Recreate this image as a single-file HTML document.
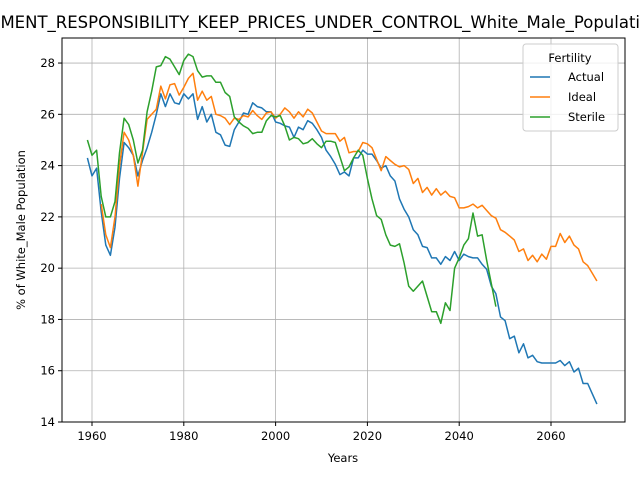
<!DOCTYPE html>
<html><head><meta charset="utf-8"><style>body{margin:0;background:#fff}svg{display:block;font-family:"DejaVu Sans","Liberation Sans",sans-serif}</style></head>
<body>
<svg id="chart" width="640" height="480">
<text x="295" y="28" font-size="16.5" text-anchor="middle">GOVERNMENT_RESPONSIBILITY_KEEP_PRICES_UNDER_CONTROL_White_Male_Population</text>
<g id="grid"></g><g id="series"></g><g id="axes"></g>
<rect x="62" y="38" width="563" height="384" fill="none" stroke="#000" stroke-width="1"/>
<text x="343" y="462" font-size="11.5" text-anchor="middle">Years</text>
<text transform="translate(25,230) rotate(-90)" font-size="11.5" text-anchor="middle">% of White_Male Population</text>
<g>
<rect x="523" y="44" width="95" height="87" rx="3" fill="#fff" fill-opacity="0.8" stroke="#ccc"/>
<text x="570" y="62" font-size="11.5" text-anchor="middle">Fertility</text>
<g><line x1="530" y1="77" x2="550" y2="77" stroke="#1f77b4" stroke-width="1.5"/><text x="568" y="81" font-size="11.5">Actual</text></g>
<g><line x1="530" y1="97" x2="550" y2="97" stroke="#ff7f0e" stroke-width="1.5"/><text x="568" y="101" font-size="11.5">Ideal</text></g>
<g><line x1="530" y1="117" x2="550" y2="117" stroke="#2ca02c" stroke-width="1.5"/><text x="568" y="121" font-size="11.5">Sterile</text></g>
</g>
</svg>
<script>
const xTicks=[1960,1980,2000,2020,2040,2060];
const yTicks=[14,16,18,20,22,24,26,28];
const actualStart=1959;
const actual=[24.3,23.6,23.9,22.2,20.9,20.5,21.6,23.5,24.9,24.7,24.4,23.6,24.2,24.7,25.3,26.0,26.8,26.3,26.8,26.45,26.4,26.8,26.6,26.8,25.8,26.3,25.7,26.0,25.3,25.2,24.8,24.75,25.4,25.7,26.05,26.0,26.45,26.3,26.25,26.1,26.1,25.7,25.65,25.55,25.5,25.1,25.5,25.4,25.75,25.65,25.4,25.1,24.6,24.35,24.05,23.65,23.75,23.6,24.3,24.3,24.6,24.45,24.45,24.2,23.9,24.0,23.6,23.4,22.7,22.3,22.0,21.5,21.3,20.85,20.8,20.4,20.4,20.15,20.45,20.3,20.65,20.3,20.55,20.45,20.4,20.4,20.15,19.95,19.3,19.0,18.1,17.95,17.25,17.35,16.7,17.05,16.5,16.6,16.35,16.3,16.3,16.3,16.3,16.4,16.2,16.35,15.95,16.1,15.5,15.5,15.1,14.7];
const idealStart=1962;
const ideal=[22.5,21.3,20.8,22.0,24.0,25.3,25.0,24.4,23.2,24.5,25.8,26.0,26.2,27.1,26.6,27.15,27.2,26.75,27.05,27.4,27.6,26.55,26.9,26.55,26.7,26.0,25.95,25.85,25.6,25.85,25.8,25.95,25.9,26.15,25.95,25.8,26.05,26.1,25.85,26.0,26.25,26.1,25.85,26.1,25.9,26.2,26.05,25.7,25.35,25.25,25.25,25.25,24.95,25.1,24.5,24.55,24.55,24.9,24.85,24.7,24.25,23.8,24.35,24.2,24.05,23.95,24.0,23.85,23.3,23.5,22.95,23.15,22.85,23.1,22.85,23.0,22.8,22.75,22.35,22.35,22.4,22.5,22.35,22.45,22.25,22.05,21.95,21.5,21.4,21.25,21.1,20.65,20.75,20.3,20.5,20.25,20.55,20.35,20.85,20.85,21.35,21.0,21.25,20.9,20.75,20.25,20.1,19.8,19.5];
const sterileStart=1959;
const sterile=[25.0,24.4,24.6,22.8,22.0,22.0,22.6,24.5,25.85,25.6,25.0,24.1,24.6,26.1,26.9,27.85,27.9,28.25,28.15,27.85,27.55,28.1,28.35,28.25,27.7,27.45,27.5,27.5,27.25,27.25,26.85,26.7,25.9,25.7,25.55,25.45,25.25,25.3,25.3,25.75,25.95,25.9,25.95,25.55,25.0,25.1,25.05,24.85,24.9,25.05,24.85,24.7,24.95,24.95,24.9,24.35,23.8,23.95,24.3,24.6,24.4,23.5,22.7,22.05,21.9,21.3,20.9,20.85,20.95,20.2,19.3,19.1,19.3,19.5,18.9,18.3,18.3,17.85,18.65,18.35,20.0,20.4,20.9,21.15,22.15,21.25,21.3,20.3,19.4,18.5];
const X=y=>92+(y-1960)*4.59;
const Y=v=>422-(v-14)*25.64;
const NS='http://www.w3.org/2000/svg';
const grid=document.getElementById('grid'),axes=document.getElementById('axes'),ser=document.getElementById('series');
function mk(tag,at,parent){const e=document.createElementNS(NS,tag);for(const k in at)e.setAttribute(k,at[k]);parent.appendChild(e);return e;}
xTicks.forEach(t=>{const x=X(t);
const g=mk('line',{x1:x,x2:x,y1:38,y2:422,stroke:'#b0b0b0','stroke-width':0.8},grid);


mk('line',{x1:x,x2:x,y1:422,y2:426,stroke:'#000'},axes);
const tx=mk('text',{x:x,y:440,'font-size':11.5,'text-anchor':'middle'},axes);tx.textContent=t;

});
yTicks.forEach(t=>{const y=Y(t);
const g=mk('line',{x1:62,x2:625,y1:y,y2:y,stroke:'#b0b0b0','stroke-width':0.8},grid);


mk('line',{x1:58,x2:62,y1:y,y2:y,stroke:'#000'},axes);
const tx=mk('text',{x:55,y:y+4,'font-size':11.5,'text-anchor':'end'},axes);tx.textContent=t;

});
function line(vals,start,color,name){const pts=vals.map((v,i)=>X(start+i).toFixed(1)+','+Y(v).toFixed(1)).join(' ');
const p=mk('polyline',{points:pts,fill:'none',stroke:color,'stroke-width':1.5,'stroke-linejoin':'round'},ser);

}
line(actual,actualStart,'#1f77b4','actual-line');
line(ideal,idealStart,'#ff7f0e','ideal-line');
line(sterile,sterileStart,'#2ca02c','sterile-line');
</script>
</body></html>
